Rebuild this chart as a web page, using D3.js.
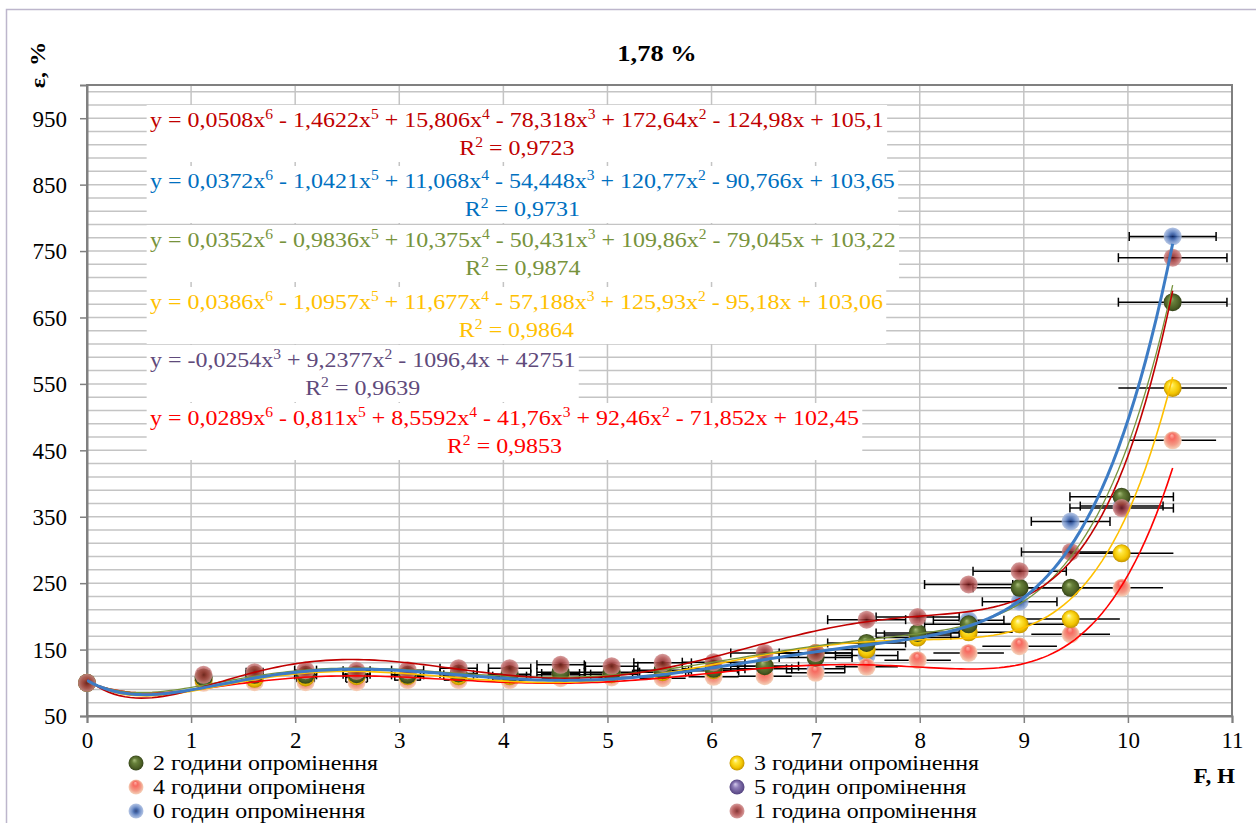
<!DOCTYPE html>
<html>
<head>
<meta charset="utf-8">
<script src="https://cdn.jsdelivr.net/npm/d3@7"></script>
<style>
  body { margin: 0; background: #fff; }
  svg { display: block; font-family: "Liberation Serif", "Times New Roman", serif; }
</style>
</head>
<body>
<svg id="chart" width="1256" height="823"></svg>
<script>
// F, H values (same for every series)
const fValues = [0, 1.12, 1.61, 2.10, 2.59, 3.08, 3.57, 4.06, 4.55, 5.04, 5.53, 6.02, 6.51, 7.00, 7.49, 7.98, 8.47, 8.96, 9.45, 9.94, 10.43];

// eps, % for each irradiation time
const eps0h = [100, 104, 108, 108, 108, 110, 112, 110, 114, 113, 116, 118, 121, 121, 141, 172, 194, 222, 343, 366, 772];
const eps1h = [100, 112, 116, 119, 118, 119, 122, 122, 127, 125, 130, 131, 145, 145, 195, 199, 248, 268, 297, 363, 740];
const eps2h = [100, 108, 112, 112, 113, 112, 114, 113, 116, 116, 119, 121, 125, 138, 160, 175, 188, 243, 243, 380, 673];
const eps3h = [100, 104, 106, 108, 110, 110, 110, 110, 112, 113, 116, 119, 125, 145, 150, 168, 176, 188, 196, 295, 544];
const eps4h = [100, 100, 101, 101, 101, 104, 104, 104, 107, 108, 107, 109, 110, 115, 124, 134, 145, 155, 173, 243, 465];
const eps5h = []; // points of this series lie outside the plotted F range

// trendline coefficients, highest power first
const fit0h = [0.0372, -1.0421, 11.068, -54.448, 120.77, -90.766, 103.65];
const fit1h = [0.0508, -1.4622, 15.806, -78.318, 172.64, -124.98, 105.1];
const fit2h = [0.0352, -0.9836, 10.375, -50.431, 109.86, -79.045, 103.22];
const fit3h = [0.0386, -1.0957, 11.677, -57.188, 125.93, -95.18, 103.06];
const fit4h = [0.0289, -0.811, 8.5592, -41.76, 92.46, -71.852, 102.45];
const fit5h = [-0.0254, 9.2377, -1096.4, 42751];
const r2Values = { h0: "0,9731", h1: "0,9723", h2: "0,9874", h3: "0,9864", h4: "0,9853", h5: "0,9639" };

const xTicks = d3.range(0, 12, 1);
const yTicks = d3.range(50, 1000, 100);

const series = [
  { id: "h0", name: "0 годин опромінення", values: eps0h, fit: fit0h, eq: "#0070c0", line: "#3d7cc5", lw: 3, err: 0.04, caps: true, opacity: 0.85,
    stops: [[0, "#132c6a"], [0.28, "#27509e"], [0.55, "#5f82c2"], [1, "#a9bce0"]], f: [0.5, 0.5] },
  { id: "h1", name: "1 година опромінення", values: eps1h, fit: fit1h, eq: "#c00000", line: "#c00000", lw: 1.6, err: 0.05, caps: true, opacity: 0.85,
    stops: [[0, "#6a1515"], [0.3, "#963030"], [0.62, "#b45252"], [1, "#cf8d8d"]], f: [0.5, 0.5] },
  { id: "h2", name: "2 години опромінення", values: eps2h, fit: fit2h, eq: "#77933c", line: "#77933c", lw: 1.3, err: 0.05, caps: true, opacity: 1,
    stops: [[0, "#a7bd7a"], [0.35, "#67803a"], [0.8, "#4a5d24"], [1, "#34431a"]], f: [0.38, 0.3] },
  { id: "h3", name: "3 години опромінення", values: eps3h, fit: fit3h, eq: "#ffc000", line: "#ffc000", lw: 1.6, err: 0.05, caps: false, opacity: 1,
    stops: [[0, "#fffbd0"], [0.3, "#ffe63a"], [0.75, "#f2c400"], [1, "#c39400"]], f: [0.38, 0.3] },
  { id: "h4", name: "4 години опроміненя", values: eps4h, fit: fit4h, eq: "#ff0000", line: "#ff0000", lw: 1.6, err: 0.04, caps: false, opacity: 1,
    stops: [[0, "#ffb3aa"], [0.3, "#f76a60"], [0.7, "#f39a86"], [1, "#f5d2ba"]], f: [0.45, 0.2] },
  { id: "h5", name: "5 годин опромінення", values: eps5h, fit: fit5h, eq: "#604a7b", line: "#604a7b", lw: 1.5, err: 0.04, caps: true, opacity: 1,
    stops: [[0, "#d4cbeb"], [0.4, "#8e7cb8"], [1, "#554481"]], f: [0.38, 0.3] }
];
const byId = Object.fromEntries(series.map(s => [s.id, s]));

const svg = d3.select("#chart");
const margin = { left: 87, right: 1232, top: 85, bottom: 716 };

const x = d3.scaleLinear().domain([0, 11]).range([margin.left, margin.right]);
const y = d3.scaleLinear().domain([50, 1000]).range([margin.bottom, margin.top]);

// outer chart border
svg.append("rect").attr("x", 6.5).attr("y", 9.5).attr("width", 1270).attr("height", 840)
  .attr("fill", "#fff").attr("stroke", "#bdb6cc").attr("stroke-width", 1.5);

// gradients for the markers
const defs = svg.append("defs");
series.forEach(s => {
  const g = defs.append("radialGradient").attr("id", "grad-" + s.id)
    .attr("cx", "50%").attr("cy", "50%").attr("r", "50%")
    .attr("fx", s.f[0] * 100 + "%").attr("fy", s.f[1] * 100 + "%");
  s.stops.forEach(st => g.append("stop").attr("offset", st[0]).attr("stop-color", st[1]));
});
defs.append("clipPath").attr("id", "plot-clip").append("rect")
  .attr("x", margin.left).attr("y", margin.top)
  .attr("width", margin.right - margin.left).attr("height", margin.bottom - margin.top);

// gridlines
const grid = svg.append("g").attr("stroke", "#c4c4c4").attr("stroke-width", 1.5);
grid.selectAll("line.h").data(d3.range(70, 1000, 20)).join("line")
  .attr("x1", margin.left).attr("x2", margin.right)
  .attr("y1", d => y(d)).attr("y2", d => y(d));
grid.selectAll("line.v").data(xTicks.slice(1)).join("line")
  .attr("y1", margin.top).attr("y2", margin.bottom)
  .attr("x1", d => x(d)).attr("x2", d => x(d));

// plot border
svg.append("rect").attr("x", margin.left).attr("y", margin.top)
  .attr("width", margin.right - margin.left).attr("height", margin.bottom - margin.top)
  .attr("fill", "none").attr("stroke", "#808080").attr("stroke-width", 2);

// axes
const xAxis = svg.append("g").attr("transform", `translate(0,${margin.bottom})`)
  .call(d3.axisBottom(x).tickValues(xTicks).tickSize(7).tickPadding(9).tickFormat(d3.format("d")));
const yAxis = svg.append("g").attr("transform", `translate(${margin.left},0)`)
  .call(d3.axisLeft(y).tickValues(yTicks).tickSize(7).tickPadding(13).tickFormat(d3.format("d")));
[xAxis, yAxis].forEach(a => {
  a.select(".domain").attr("stroke", "#808080").attr("stroke-width", 2);
  a.selectAll(".tick line").attr("stroke", "#808080").attr("stroke-width", 1.5);
  a.selectAll(".tick text").attr("fill", "#000").style("font-size", "23px")
    .style("font-family", '"Liberation Serif", "Times New Roman", serif');
});
yAxis.selectAll(".tick text").attr("dy", "0.34em");

// error bars
const errG = svg.append("g").attr("stroke", "#000").attr("stroke-width", 1.5);
series.forEach(s => {
  s.values.forEach((v, i) => {
    const f = fValues[i];
    const h = f * s.err;
    if (h <= 0) return;
    errG.append("line").attr("x1", x(f - h)).attr("x2", x(f + h)).attr("y1", y(v)).attr("y2", y(v));
    if (s.caps) {
      [f - h, f + h].forEach(e => errG.append("line")
        .attr("x1", x(e)).attr("x2", x(e)).attr("y1", y(v) - 4.5).attr("y2", y(v) + 4.5));
    }
  });
});

// markers
const drawOrder = ["h0", "h4", "h5", "h3", "h2", "h1"];
drawOrder.forEach(id => {
  const s = byId[id];
  svg.append("g").selectAll("circle").data(s.values).join("circle")
    .attr("cx", (d, i) => x(fValues[i])).attr("cy", d => y(d)).attr("r", 9)
    .attr("fill", `url(#grad-${id})`).attr("opacity", s.opacity);
});

// polynomial trendlines
const poly = (c, t) => c.reduce((acc, k) => acc * t + k, 0);
const lineGen = d3.line().x(d => x(d[0])).y(d => y(d[1]));
const trendG = svg.append("g").attr("clip-path", "url(#plot-clip)");
["h4", "h3", "h2", "h1", "h0"].forEach(id => {
  const s = byId[id];
  const fs = fValues.slice(0, s.values.length);
  const lo = d3.min(fs), hi = d3.max(fs);
  const pts = d3.range(0, 201).map(k => {
    const t = lo + (hi - lo) * k / 200;
    return [t, poly(s.fit, t)];
  });
  trendG.append("path").attr("d", lineGen(pts)).attr("fill", "none")
    .attr("stroke", s.line).attr("stroke-width", s.lw);
});

// text helper: appends parts, raising the superscript ones
function addParts(textSel, parts) {
  let lift = 0;
  parts.forEach(p => {
    const t = textSel.append("tspan").text(p.t);
    const want = p.sup ? -8 : 0;
    if (want !== lift) { t.attr("dy", want - lift); lift = want; }
    if (p.sup) t.style("font-size", "14px");
  });
}

// trendline equation labels
const fmt = v => String(v).replace(".", ",");
const labelOrder = ["h1", "h0", "h2", "h3", "h5", "h4"];
const labelTop = [127, 188, 247, 309, 367, 425];
const eqStretch = 1.115;
labelOrder.forEach((id, li) => {
  const s = byId[id];
  const left = 150;
  const g = svg.append("g").attr("transform", `translate(${left},${labelTop[li]}) scale(${eqStretch},1)`);
  const box = g.append("rect").attr("fill", "#fff");
  const eq = g.append("text").attr("fill", s.eq).style("font-size", "21.5px").attr("x", 0).attr("y", 0);
  const parts = [{ t: "y = " }];
  const n = s.fit.length - 1;
  s.fit.forEach((c, k) => {
    const p = n - k;
    let str = k === 0 ? (c < 0 ? "-" + fmt(-c) : fmt(c)) : (c < 0 ? " - " : " + ") + fmt(Math.abs(c));
    if (p >= 1) str += "x";
    parts.push({ t: str });
    if (p >= 2) parts.push({ t: String(p), sup: true });
  });
  addParts(eq, parts);
  const w = eq.node().getComputedTextLength();
  const r2 = g.append("text").attr("fill", s.eq).style("font-size", "21.5px")
    .attr("text-anchor", "middle").attr("x", w / 2).attr("y", 28);
  addParts(r2, [{ t: "R" }, { t: "2", sup: true }, { t: " = " + r2Values[id] }]);
  box.attr("x", -3).attr("y", -22).attr("width", w + 6).attr("height", 57);
});

// title and axis names
svg.append("text").attr("transform", "translate(657,61) scale(1.15,1)").attr("text-anchor", "middle")
  .style("font-size", "23px").style("font-weight", "bold").text("1,78 %");
svg.append("text").attr("transform", "translate(45,65) rotate(-90) scale(1.1,1)").attr("text-anchor", "middle")
  .style("font-size", "22px").style("font-weight", "bold").text("ε, %");
svg.append("text").attr("transform", "translate(1235,783) scale(1.05,1)").attr("text-anchor", "end")
  .style("font-size", "22px").style("font-weight", "bold").text("F, H");

// legend
const legendItems = [
  { id: "h2", col: 0, row: 0 }, { id: "h4", col: 0, row: 1 }, { id: "h0", col: 0, row: 2 },
  { id: "h3", col: 1, row: 0 }, { id: "h5", col: 1, row: 1 }, { id: "h1", col: 1, row: 2 }
];
const legendX = [136, 737];
const legendY = [763, 787, 811];
const lg = svg.append("g");
legendItems.forEach(it => {
  const s = byId[it.id];
  lg.append("circle").attr("cx", legendX[it.col]).attr("cy", legendY[it.row]).attr("r", 7.5)
    .attr("fill", `url(#grad-${it.id})`).attr("opacity", s.opacity);
  lg.append("text").attr("transform", `translate(${legendX[it.col] + 17},${legendY[it.row] + 7}) scale(1.14,1)`)
    .style("font-size", "21px").text(s.name);
});
</script>
</body>
</html>
